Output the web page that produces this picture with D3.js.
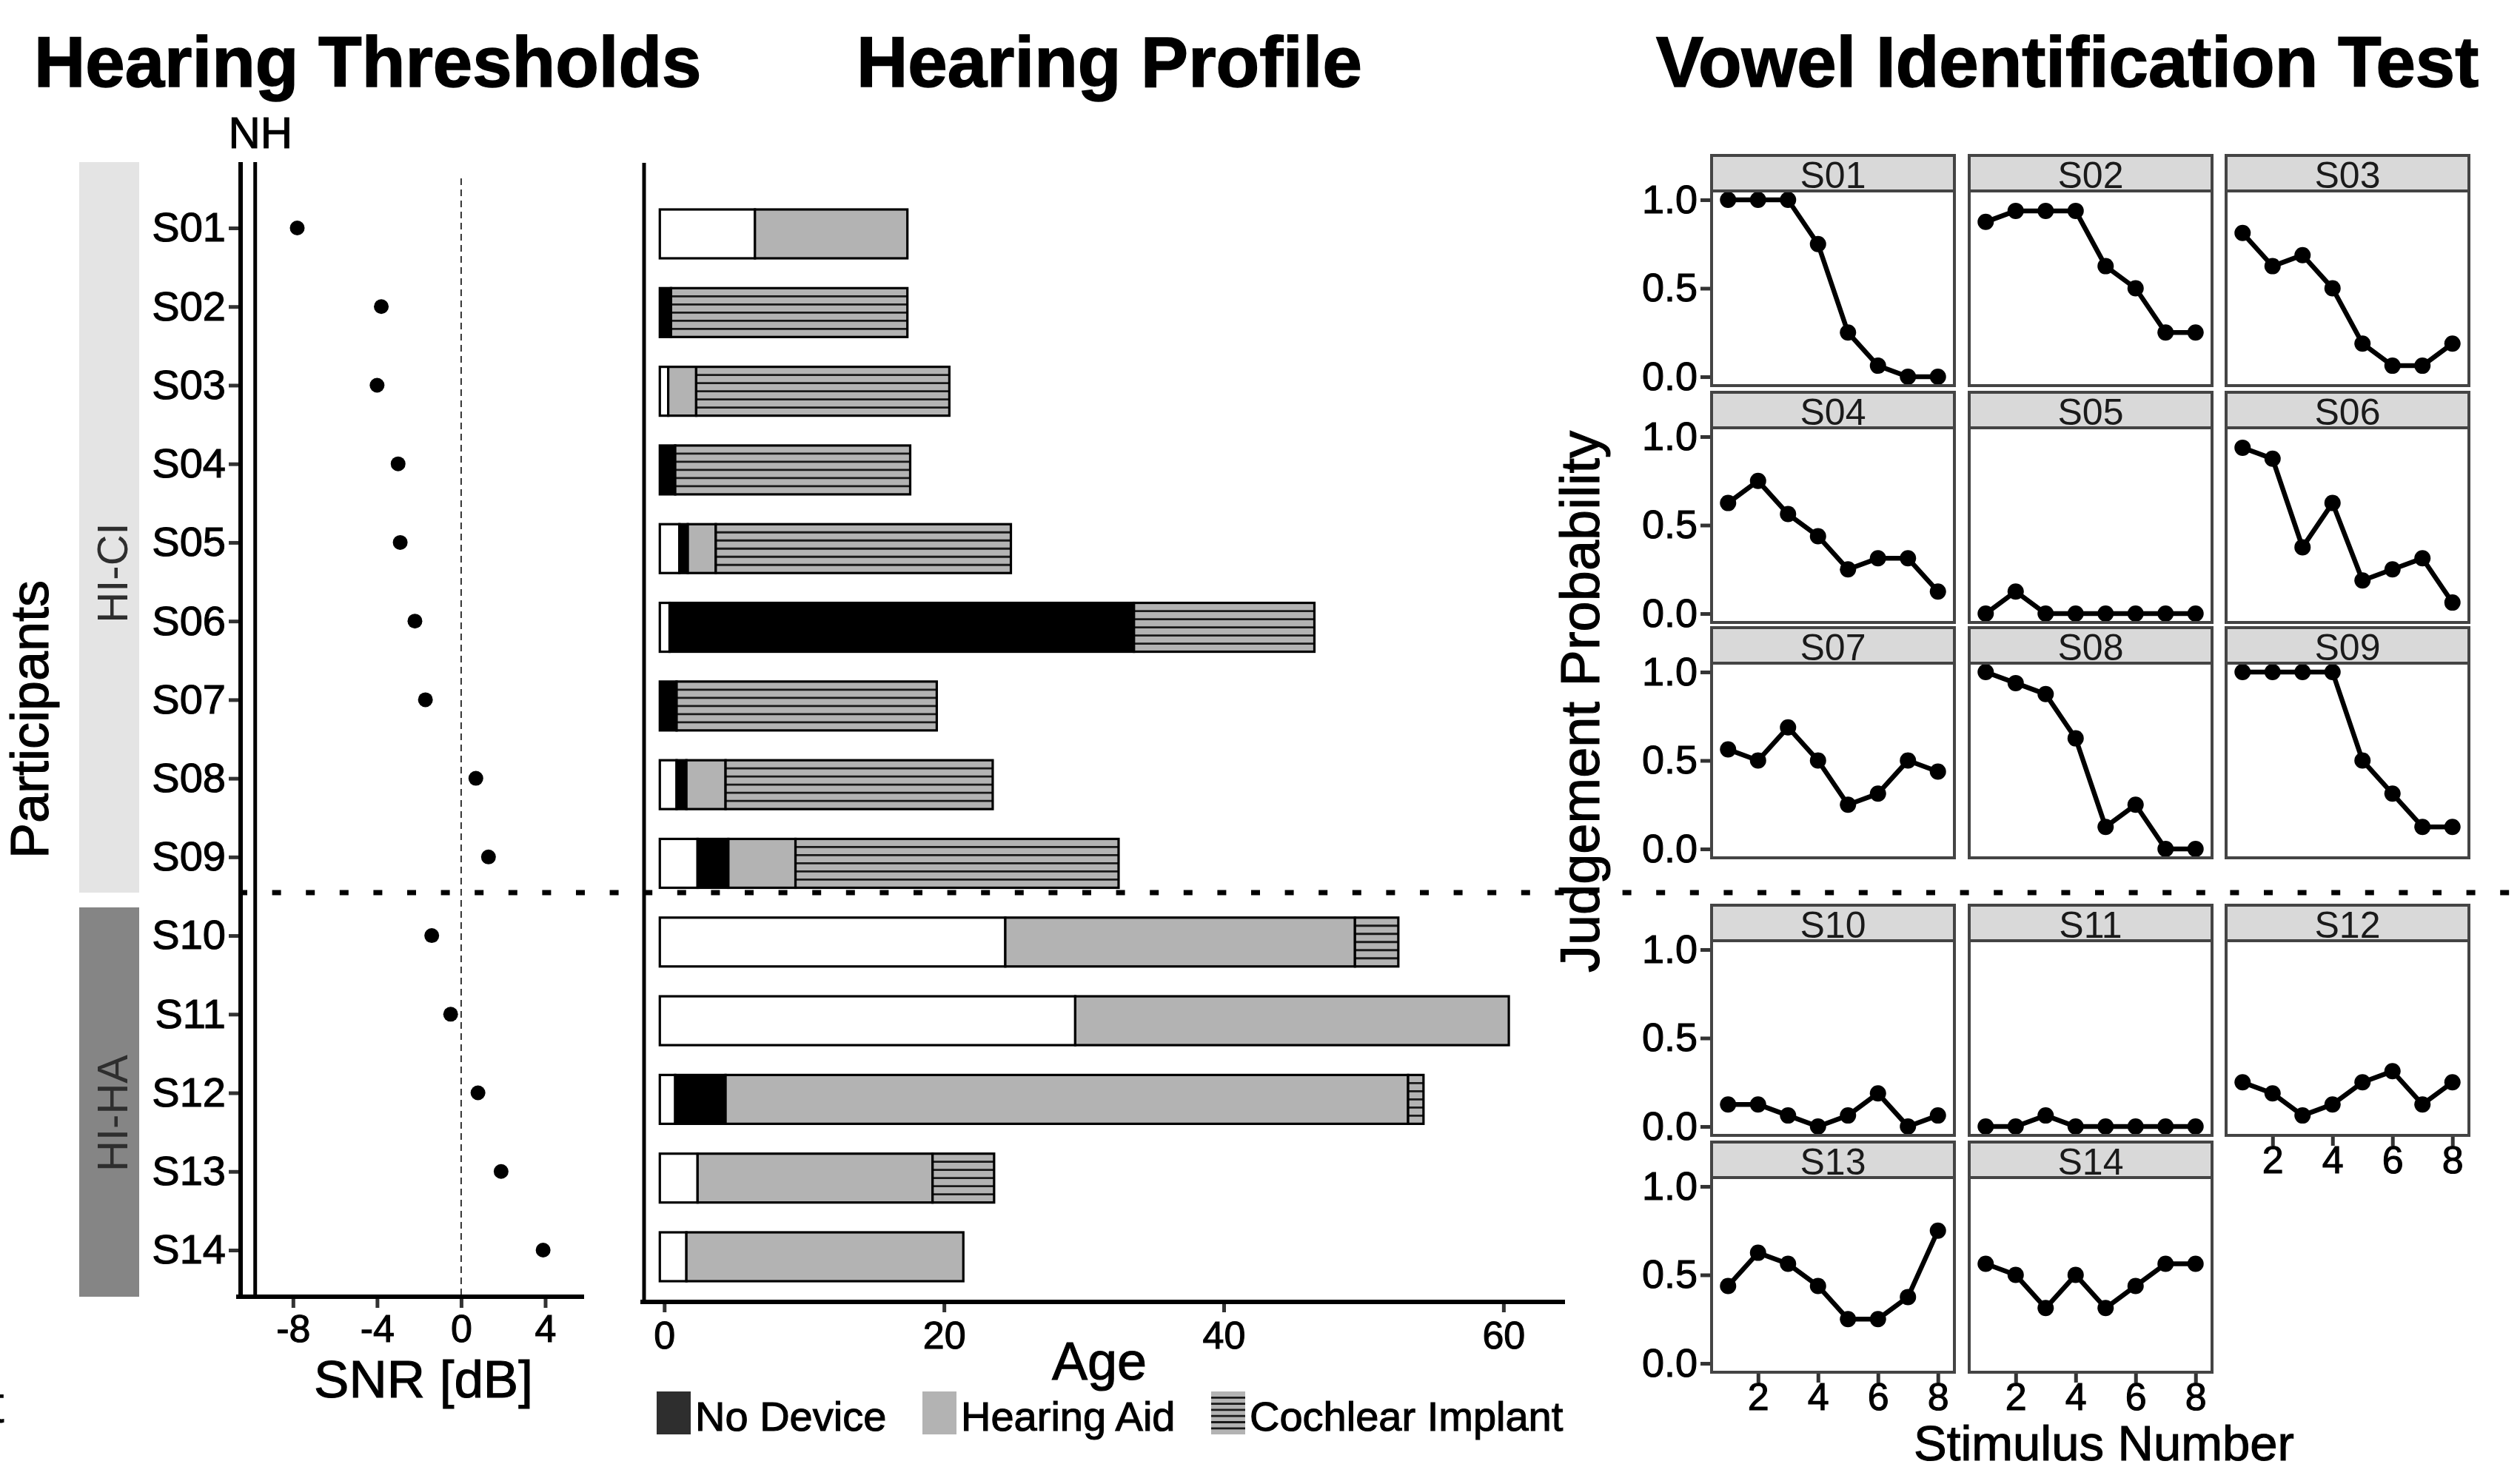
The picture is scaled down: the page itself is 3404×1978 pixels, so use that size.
<!DOCTYPE html>
<html>
<head>
<meta charset="utf-8">
<script src="https://cdn.jsdelivr.net/npm/d3@7"></script>
<style>
  html, body { margin: 0; padding: 0; background: #fff; }
  svg { display: block; font-family: 'Liberation Sans', Arial, Helvetica, sans-serif; }
  .heavy { stroke: #000; stroke-width: 1.1px; }
</style>
</head>
<body>
<svg id="chart" width="3404" height="1978"></svg>
<script>
// ---- data ----
const participants = ['S01', 'S02', 'S03', 'S04', 'S05', 'S06', 'S07',
  'S08', 'S09', 'S10', 'S11', 'S12', 'S13', 'S14'];
const groupNames = ['HI-CI', 'HI-HA'];
const ciGroup = participants.slice(0, 9);
const haGroup = participants.slice(9);

// speech-in-noise threshold per participant (dB SNR)
const snrThreshold = [-7.8, -3.8, -4.0, -3.0, -2.9, -2.2, -1.7, 0.7, 1.3, -1.4, -0.5, 0.8, 1.9, 3.9];
const nhThreshold = -9.8;
const snrTicks = [-8, -4, 0, 4];

// years spent in each hearing stage, stacked they give the age
const yearsNormal = [6.8, 0, 0.6, 0, 1.4, 0.7, 0, 1.2, 2.7, 24.7, 29.7, 1.1, 2.7, 1.9];
const yearsNoDevice = [0, 0.8, 0, 1.1, 0.6, 33.2, 1.2, 0.7, 2.2, 0, 0, 3.6, 0, 0];
const yearsHearingAid = [10.9, 0, 2.0, 0, 2.0, 0, 0, 2.8, 4.8, 25.0, 31.0, 48.8, 16.8, 19.8];
const yearsImplant = [0, 16.9, 18.1, 16.8, 21.1, 12.9, 18.6, 19.1, 23.1, 3.1, 0, 1.1, 4.4, 0];
const ageTicks = [0, 20, 40, 60];
const legendLabels = ['No Device', 'Hearing Aid', 'Cochlear Implant'];

// vowel identification: judgement probability for stimulus 1..8
const stimuli = [1, 2, 3, 4, 5, 6, 7, 8];
const vowelS01 = [1, 1, 1, 0.75, 0.25, 0.0625, 0, 0];
const vowelS02 = [0.875, 0.9375, 0.9375, 0.9375, 0.625, 0.5, 0.25, 0.25];
const vowelS03 = [0.8125, 0.625, 0.6875, 0.5, 0.1875, 0.0625, 0.0625, 0.1875];
const vowelS04 = [0.625, 0.75, 0.5625, 0.4375, 0.25, 0.3125, 0.3125, 0.125];
const vowelS05 = [0, 0.125, 0, 0, 0, 0, 0, 0];
const vowelS06 = [0.9375, 0.875, 0.375, 0.625, 0.1875, 0.25, 0.3125, 0.0625];
const vowelS07 = [0.5625, 0.5, 0.6875, 0.5, 0.25, 0.3125, 0.5, 0.4375];
const vowelS08 = [1, 0.9375, 0.875, 0.625, 0.125, 0.25, 0, 0];
const vowelS09 = [1, 1, 1, 1, 0.5, 0.3125, 0.125, 0.125];
const vowelS10 = [0.125, 0.125, 0.0625, 0, 0.0625, 0.1875, 0, 0.0625];
const vowelS11 = [0, 0, 0.0625, 0, 0, 0, 0, 0];
const vowelS12 = [0.25, 0.1875, 0.0625, 0.125, 0.25, 0.3125, 0.125, 0.25];
const vowelS13 = [0.4375, 0.625, 0.5625, 0.4375, 0.25, 0.25, 0.375, 0.75];
const vowelS14 = [0.5625, 0.5, 0.3125, 0.5, 0.3125, 0.4375, 0.5625, 0.5625];
const vowelCurves = [vowelS01, vowelS02, vowelS03, vowelS04, vowelS05, vowelS06, vowelS07,
  vowelS08, vowelS09, vowelS10, vowelS11, vowelS12, vowelS13, vowelS14];
const probTicks = [0, 0.5, 1];
const stimTicks = [2, 4, 6, 8];

// ---- drawing ----
const svg = d3.select('#chart');
const GRAY = '#b3b3b3';
const DARK = '#333';

// titles
const titles = ['Hearing Thresholds', 'Hearing Profile', 'Vowel Identification Test'];
const titleX = [46, 1157, 2237];
svg.selectAll('text.title')
  .data(titles)
  .join('text')
  .attr('class', 'title')
  .attr('x', (d, i) => titleX[i])
  .attr('y', 117)
  .attr('font-size', 96)
  .attr('font-weight', 'bold')
  .attr('stroke', '#000')
  .attr('stroke-width', 1.5)
  .text((d) => d);

// ===== Hearing thresholds =====
const top1 = 219;
const bottom1 = 1752;
const snrX = d3.scaleLinear().domain([-10.6, 5.85]).range([322, 789]);
const rowY = d3.scalePoint().domain(participants).range([308, 1689]);
const sepY = (rowY(ciGroup[ciGroup.length - 1]) + rowY(haGroup[0])) / 2 - 5;

const left = svg.append('g');

// group strips
left.append('rect')
  .attr('x', 107).attr('y', top1)
  .attr('width', 81).attr('height', sepY - top1)
  .attr('fill', '#e4e4e4');
left.append('rect')
  .attr('x', 107).attr('y', sepY + 20)
  .attr('width', 81).attr('height', bottom1 - sepY - 20)
  .attr('fill', '#858585');
const groupCenters = [774, 1504];
left.selectAll('text.group')
  .data(groupNames)
  .join('text')
  .attr('class', 'group')
  .attr('transform', (d, i) => `translate(172,${groupCenters[i]}) rotate(-90)`)
  .attr('text-anchor', 'middle')
  .attr('font-size', 58)
  .attr('fill', '#2e2e2e')
  .text((d) => d);

left.append('text')
  .attr('class', 'heavy')
  .attr('transform', 'translate(65,972) rotate(-90)')
  .attr('text-anchor', 'middle')
  .attr('font-size', 72)
  .text('Participants');

// zero reference
left.append('line')
  .attr('x1', snrX(0)).attr('x2', snrX(0))
  .attr('y1', 241).attr('y2', bottom1)
  .attr('stroke', DARK)
  .attr('stroke-width', 2)
  .attr('stroke-dasharray', '9,6');

// y axis
const yAxis1 = left.append('g')
  .attr('transform', `translate(${snrX.range()[0] + 2},0)`)
  .call(d3.axisLeft(rowY).tickSize(15).tickPadding(4));
yAxis1.select('.domain').remove();
yAxis1.selectAll('.tick line').attr('stroke', DARK).attr('stroke-width', 5);
yAxis1.selectAll('.tick text')
  .attr('class', 'heavy')
  .attr('font-size', 56)
  .attr('font-family', null)
  .attr('fill', '#000');

left.append('line')
  .attr('x1', snrX.range()[0] + 3).attr('x2', snrX.range()[0] + 3)
  .attr('y1', top1).attr('y2', bottom1 + 3)
  .attr('stroke', '#000').attr('stroke-width', 6);

// normal-hearing line
left.append('line')
  .attr('x1', snrX(nhThreshold)).attr('x2', snrX(nhThreshold))
  .attr('y1', top1).attr('y2', bottom1)
  .attr('stroke', '#000').attr('stroke-width', 5);
left.append('text')
  .attr('class', 'heavy')
  .attr('x', snrX(nhThreshold) + 7)
  .attr('y', 200)
  .attr('text-anchor', 'middle')
  .attr('font-size', 60)
  .text('NH');

// x axis
const xAxis1 = left.append('g')
  .attr('transform', `translate(0,${bottom1})`)
  .call(d3.axisBottom(snrX).tickValues(snrTicks).tickFormat((d) => String(d))
    .tickSize(15).tickPadding(9));
xAxis1.select('.domain').remove();
xAxis1.selectAll('.tick line').attr('stroke', DARK).attr('stroke-width', 5);
xAxis1.selectAll('.tick text').attr('class', 'heavy')
  .attr('font-size', 52).attr('font-family', null).attr('fill', '#000');
left.append('line')
  .attr('x1', snrX.range()[0] - 3).attr('x2', snrX.range()[1])
  .attr('y1', bottom1).attr('y2', bottom1)
  .attr('stroke', '#000').attr('stroke-width', 6);
left.append('text')
  .attr('class', 'heavy')
  .attr('x', 572).attr('y', 1888)
  .attr('text-anchor', 'middle')
  .attr('font-size', 71)
  .text('SNR [dB]');

// threshold points
left.selectAll('circle.snr')
  .data(participants)
  .join('circle')
  .attr('class', 'snr')
  .attr('cx', (d, i) => snrX(snrThreshold[i]))
  .attr('cy', (d) => rowY(d))
  .attr('r', 10)
  .attr('fill', '#000');

// ===== Hearing profile =====
const top2 = 220;
const bottom2 = 1759;
const ageX = d3.scaleLinear().domain([-1.55, 64.4]).range([868, 2114]);
const barY = d3.scalePoint().domain(participants).range([316, 1698]);
const barH = 66;
const stageKeys = ['normal', 'noDevice', 'hearingAid', 'implant'];
const stageFill = { normal: '#fff', noDevice: '#000', hearingAid: GRAY, implant: GRAY };

const profileRows = participants.map((p, i) => ({
  id: p,
  normal: yearsNormal[i],
  noDevice: yearsNoDevice[i],
  hearingAid: yearsHearingAid[i],
  implant: yearsImplant[i]
}));
const stacked = d3.stack().keys(stageKeys)(profileRows);

const mid = svg.append('g');

stacked.forEach((layer) => {
  layer.forEach((seg) => {
    if (seg[1] - seg[0] <= 0) return;
    const x0 = ageX(seg[0]) - 6;
    const w = ageX(seg[1]) - ageX(seg[0]);
    const y0 = barY(seg.data.id) - barH / 2;
    mid.append('rect')
      .attr('x', x0).attr('y', y0)
      .attr('width', w).attr('height', barH)
      .attr('fill', stageFill[layer.key]);
    if (layer.key === 'implant') {
      d3.range(1, 6).forEach((k) => {
        mid.append('line')
          .attr('x1', x0).attr('x2', x0 + w)
          .attr('y1', y0 + (k * barH) / 6).attr('y2', y0 + (k * barH) / 6)
          .attr('stroke', '#1a1a1a').attr('stroke-width', 2.8);
      });
    }
    mid.append('rect')
      .attr('x', x0).attr('y', y0)
      .attr('width', w).attr('height', barH)
      .attr('fill', 'none')
      .attr('stroke', '#000').attr('stroke-width', 3.2);
  });
});

// axes
const xAxis2 = mid.append('g')
  .attr('transform', `translate(0,${bottom2})`)
  .call(d3.axisBottom(ageX).tickValues(ageTicks).tickSize(14).tickPadding(12));
xAxis2.select('.domain').remove();
xAxis2.selectAll('.tick line').attr('stroke', DARK).attr('stroke-width', 5);
xAxis2.selectAll('.tick text').attr('class', 'heavy')
  .attr('font-size', 52).attr('font-family', null).attr('fill', '#000');
mid.append('line')
  .attr('x1', ageX.range()[0] - 3).attr('x2', ageX.range()[1])
  .attr('y1', bottom2).attr('y2', bottom2)
  .attr('stroke', '#000').attr('stroke-width', 6);
mid.append('line')
  .attr('x1', ageX.range()[0] + 2).attr('x2', ageX.range()[0] + 2)
  .attr('y1', top2).attr('y2', bottom2)
  .attr('stroke', '#000').attr('stroke-width', 5);
mid.append('text')
  .attr('class', 'heavy')
  .attr('x', 1485).attr('y', 1864)
  .attr('text-anchor', 'middle')
  .attr('font-size', 72)
  .text('Age');

// legend
const legendX = [887, 1246, 1636];
const legendFill = ['#2e2e2e', GRAY, GRAY];
const legend = mid.selectAll('g.legend')
  .data(legendLabels)
  .join('g')
  .attr('class', 'legend')
  .attr('transform', (d, i) => `translate(${legendX[i]},1880)`);
legend.append('rect')
  .attr('width', 46).attr('height', 58)
  .attr('fill', (d, i) => legendFill[i]);
legend.filter((d, i) => i === 2)
  .selectAll('line')
  .data(d3.range(1, 7))
  .join('line')
  .attr('x1', 0).attr('x2', 46)
  .attr('y1', (k) => k * 8.3).attr('y2', (k) => k * 8.3)
  .attr('stroke', '#1a1a1a').attr('stroke-width', 2.8);
legend.append('text')
  .attr('class', 'heavy')
  .attr('x', 52).attr('y', 53)
  .attr('font-size', 56)
  .text((d) => d);

// ===== Vowel identification facets =====
const rowTops = [210, 530, 848, 1223, 1543];
const colLefts = [2312, 2660, 3007];
const panelW = 328;
const stripH = 48;
const panelH = 263;

const right = svg.append('g');

vowelCurves.forEach((vals, i) => {
  const r = Math.floor(i / 3);
  const c = i % 3;
  const x0 = colLefts[c];
  const sTop = rowTops[r];
  const pTop = sTop + stripH;
  const xs = d3.scaleLinear().domain([0.45, 8.55]).range([x0, x0 + panelW]);
  const ys = d3.scaleLinear().domain([-0.05, 1.05]).range([pTop + panelH, pTop]);
  const g = right.append('g');

  g.append('rect')
    .attr('x', x0).attr('y', pTop)
    .attr('width', panelW).attr('height', panelH)
    .attr('fill', '#fff');

  g.append('path')
    .datum(vals)
    .attr('fill', 'none')
    .attr('stroke', '#000')
    .attr('stroke-width', 6.5)
    .attr('stroke-linejoin', 'round')
    .attr('d', d3.line().x((d, k) => xs(stimuli[k])).y((d) => ys(d)));
  g.selectAll('circle')
    .data(vals)
    .join('circle')
    .attr('cx', (d, k) => xs(stimuli[k]))
    .attr('cy', (d) => ys(d))
    .attr('r', 11)
    .attr('fill', '#000');

  g.append('rect')
    .attr('x', x0).attr('y', pTop)
    .attr('width', panelW).attr('height', panelH)
    .attr('fill', 'none')
    .attr('stroke', '#444').attr('stroke-width', 4);

  // strip
  g.append('rect')
    .attr('x', x0).attr('y', sTop)
    .attr('width', panelW).attr('height', stripH)
    .attr('fill', '#d9d9d9')
    .attr('stroke', '#444').attr('stroke-width', 4);
  g.append('text')
    .attr('x', x0 + panelW / 2).attr('y', sTop + 44)
    .attr('text-anchor', 'middle')
    .attr('font-size', 50)
    .attr('fill', '#1a1a1a')
    .text(participants[i]);

  if (c === 0) {
    const ya = g.append('g')
      .attr('transform', `translate(${x0 - 2},0)`)
      .call(d3.axisLeft(ys).tickValues(probTicks).tickFormat(d3.format('.1f'))
        .tickSize(13).tickPadding(4));
    ya.select('.domain').remove();
    ya.selectAll('.tick line').attr('stroke', DARK).attr('stroke-width', 5);
    ya.selectAll('.tick text').attr('class', 'heavy')
      .attr('font-size', 54).attr('font-family', null).attr('fill', '#000');
  }
  if (i + 3 >= vowelCurves.length) {
    const xa = g.append('g')
      .attr('transform', `translate(0,${pTop + panelH + 2})`)
      .call(d3.axisBottom(xs).tickValues(stimTicks).tickSize(12).tickPadding(0));
    xa.select('.domain').remove();
    xa.selectAll('.tick line').attr('stroke', DARK).attr('stroke-width', 5);
    xa.selectAll('.tick text').attr('class', 'heavy')
      .attr('font-size', 52).attr('font-family', null).attr('fill', '#000');
  }
});

right.append('text')
  .attr('class', 'heavy')
  .attr('transform', 'translate(2160,948) rotate(-90)')
  .attr('text-anchor', 'middle')
  .attr('font-size', 74)
  .text('Judgement Probability');
right.append('text')
  .attr('class', 'heavy')
  .attr('x', 2842).attr('y', 1973)
  .attr('text-anchor', 'middle')
  .attr('font-size', 67)
  .text('Stimulus Number');

// group separator across the whole figure
svg.append('line')
  .attr('x1', 322).attr('x2', 3404)
  .attr('y1', sepY).attr('y2', sepY)
  .attr('stroke', '#000')
  .attr('stroke-width', 7)
  .attr('stroke-dasharray', '12,33.6');

// clipped fragment at the left edge
svg.append('text')
  .attr('x', -14).attr('y', 1922)
  .attr('font-size', 72)
  .text('t');
</script>
</body>
</html>
